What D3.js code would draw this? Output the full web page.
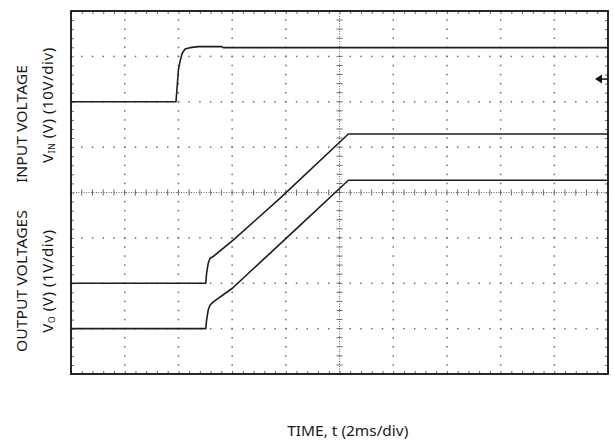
<!DOCTYPE html>
<html>
<head>
<meta charset="utf-8">
<script src="https://cdn.jsdelivr.net/npm/d3@7"></script>
<style>
  html, body { margin: 0; padding: 0; background: #fff; }
  svg { display: block; }
  text { font-family: "Noto Sans", "Open Sans", sans-serif; fill: #1a1a1a; }
</style>
</head>
<body>
<svg id="chart" width="613" height="444"></svg>
<script>
// Scope screen: 10 horizontal x 8 vertical divisions, 5 minor steps per division
const timeDivs = 10;
const voltDivs = 8;
const minorPerDiv = 5;
const msPerDiv = 2;

// Input voltage (10 V/div), ground at division 6
const inputTime  = [0, 3.91, 3.94, 4.00, 4.06, 4.14, 4.25, 4.43, 4.74, 5.61, 5.67, 20];
const inputVolts = [0, 0, 2.23, 7.01, 8.84, 10.69, 11.64, 11.92, 12.14, 12.14, 11.92, 11.92];

// Output 1 (1 V/div), ground at division 2
const out1Time  = [0, 5.02, 5.05, 5.11, 5.18, 5.30, 6.04, 6.89, 7.78, 10.33, 20];
const out1Volts = [0, 0, 0.22, 0.44, 0.55, 0.59, 0.95, 1.40, 1.87, 3.29, 3.29];

// Output 2 (1 V/div), ground at division 1
const out2Time  = [0, 5.02, 5.05, 5.11, 5.18, 5.30, 6.01, 7.41, 8.34, 10.33, 20];
const out2Volts = [0, 0, 0.19, 0.41, 0.52, 0.59, 0.89, 1.66, 2.17, 3.27, 3.27];

// Trigger level on the input channel (V)
const triggerLevel = 5;

const svg = d3.select("#chart");
const L = 71, R = 608, T = 11, B = 374;

const x = d3.scaleLinear().domain([0, timeDivs * msPerDiv]).range([L, R]);
const yDiv = d3.scaleLinear().domain([0, voltDivs]).range([B, T]);
const yIn = d3.scaleLinear().domain([-60, 20]).range([B, T]);
const yOut1 = d3.scaleLinear().domain([-2, 6]).range([B, T]);
const yOut2 = d3.scaleLinear().domain([-1, 7]).range([B, T]);

const majorT = d3.range(0, timeDivs + 1).map(d => d * msPerDiv);
const minorT = d3.range(0, timeDivs * minorPerDiv + 1).map(d => d * msPerDiv / minorPerDiv);
const majorV = d3.range(0, voltDivs + 1);
const minorV = d3.range(0, voltDivs * minorPerDiv + 1).map(d => d / minorPerDiv);

const grid = svg.append("g").attr("fill", "#6e6e6e");

// Dotted graticule: a dot at every minor step along each major line
const innerT = majorT.filter(t => t > 0 && t < timeDivs * msPerDiv && t !== timeDivs * msPerDiv / 2);
const innerV = majorV.filter(v => v > 0 && v < voltDivs && v !== voltDivs / 2);
innerT.forEach(t => {
  grid.selectAll(null).data(minorV).join("rect")
    .attr("x", x(t) - 0.7).attr("y", d => yDiv(d) - 0.7)
    .attr("width", 1.5).attr("height", 1.5);
});
innerV.forEach(v => {
  grid.selectAll(null).data(minorT).join("rect")
    .attr("x", d => x(d) - 0.7).attr("y", yDiv(v) - 0.7)
    .attr("width", 1.5).attr("height", 1.5);
});

// Centre cross-hair with minor ticks
const xc = x(timeDivs * msPerDiv / 2), yc = yDiv(voltDivs / 2);
const centre = svg.append("g").attr("stroke", "#6a6a6a").attr("stroke-width", 1);
centre.append("line").attr("x1", L).attr("x2", R).attr("y1", yc).attr("y2", yc)
  .attr("stroke-dasharray", "1,1.5");
centre.append("line").attr("x1", xc).attr("x2", xc).attr("y1", T).attr("y2", B)
  .attr("stroke-dasharray", "1,1.5");
centre.selectAll(null).data(minorT).join("line")
  .attr("x1", d => x(d)).attr("x2", d => x(d)).attr("y1", yc - 3).attr("y2", yc + 3);
centre.selectAll(null).data(minorV).join("line")
  .attr("y1", d => yDiv(d)).attr("y2", d => yDiv(d)).attr("x1", xc - 3).attr("x2", xc + 3);

// Edge ticks pointing inward
const edge = svg.append("g");
const edgeAxis = (axis, tx, ty) => {
  const g = edge.append("g").attr("transform", `translate(${tx},${ty})`).call(axis);
  g.select(".domain").remove();
  g.selectAll("text").remove();
  g.selectAll(".tick line").attr("stroke", "#6a6a6a");
};
edgeAxis(d3.axisTop(x).tickValues(minorT).tickSize(3).tickFormat(""), 0, B);
edgeAxis(d3.axisBottom(x).tickValues(minorT).tickSize(3).tickFormat(""), 0, T);
edgeAxis(d3.axisRight(yDiv).tickValues(minorV).tickSize(3).tickFormat(""), L, 0);
edgeAxis(d3.axisLeft(yDiv).tickValues(minorV).tickSize(3).tickFormat(""), R, 0);

// Frame
svg.append("rect").attr("x", L).attr("y", T).attr("width", R - L).attr("height", B - T)
  .attr("fill", "none").attr("stroke", "#111").attr("stroke-width", 1.8);

// Traces
const traces = [
  { t: inputTime, v: inputVolts, y: yIn },
  { t: out1Time, v: out1Volts, y: yOut1 },
  { t: out2Time, v: out2Volts, y: yOut2 }
];
traces.forEach(tr => {
  const pts = tr.t.map((t, i) => [t, tr.v[i]]);
  svg.append("path").datum(pts)
    .attr("fill", "none").attr("stroke", "#1e1e1e").attr("stroke-width", 1.6)
    .attr("stroke-linejoin", "round")
    .attr("d", d3.line().x(d => x(d[0])).y(d => tr.y(d[1])));
});

// Trigger level marker
const ty = yIn(triggerLevel);
svg.append("line").attr("x1", R - 10).attr("x2", R).attr("y1", ty).attr("y2", ty)
  .attr("stroke", "#111").attr("stroke-width", 1.5);
svg.append("path").attr("fill", "#111")
  .attr("d", `M${R - 13},${ty} L${R - 6},${ty - 4.5} L${R - 6},${ty + 4.5} Z`);

// Axis titles
const fs = 14;
svg.append("text").attr("x", 347.8).attr("y", 436).attr("text-anchor", "middle")
  .attr("font-size", fs).attr("textLength", 121).attr("lengthAdjust", "spacingAndGlyphs")
  .text("TIME, t (2ms/div)");

function vtitle(cx, cy, build) {
  const t = svg.append("text").attr("transform", `translate(${cx},${cy}) rotate(-90)`)
    .attr("text-anchor", "middle").attr("font-size", fs);
  build(t);
}
vtitle(27, 124, t => t.attr("textLength", 118).attr("lengthAdjust", "spacingAndGlyphs").text("INPUT VOLTAGE"));
vtitle(27, 281, t => t.attr("textLength", 142).attr("lengthAdjust", "spacingAndGlyphs").text("OUTPUT VOLTAGES"));
vtitle(53, 105, t => {
  t.attr("font-size", 15).attr("letter-spacing", 0.6);
  t.append("tspan").text("V");
  t.append("tspan").attr("font-size", 8.5).attr("dy", 2).text("IN");
  t.append("tspan").attr("dy", -2).text(" (V) (10V/div)");
});
vtitle(53, 281, t => {
  t.attr("font-size", 15).attr("letter-spacing", 0.6);
  t.append("tspan").text("V");
  t.append("tspan").attr("font-size", 8.5).attr("dy", 2).text("O");
  t.append("tspan").attr("dy", -2).text(" (V) (1V/div)");
});
</script>
</body>
</html>
